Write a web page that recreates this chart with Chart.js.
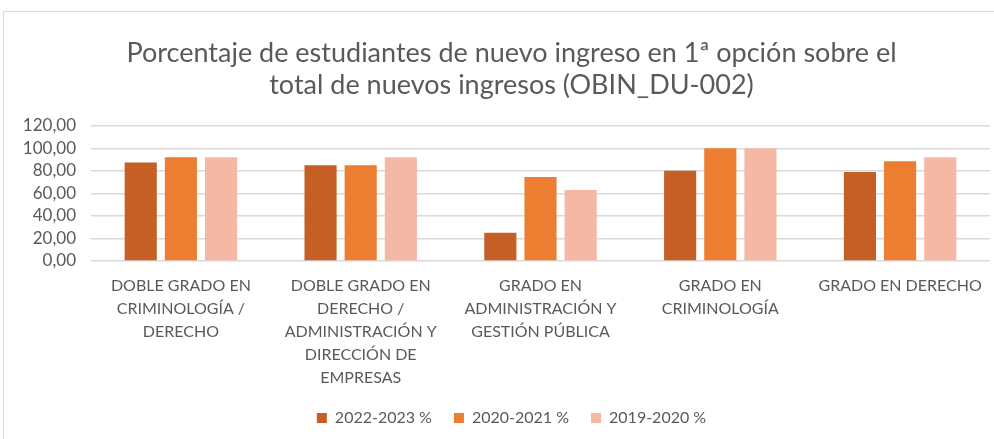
<!DOCTYPE html>
<html>
<head>
<meta charset="utf-8">
<script src="https://cdn.jsdelivr.net/npm/chart.js@4"></script>
<style>
  html, body { margin: 0; padding: 0; background: #fff; overflow: hidden; }
  #frame {
    position: absolute; left: 3px; top: 11px;
    width: 1015px; height: 430px;
    border-left: 1px solid #d9d9d9; border-top: 1px solid #d9d9d9;
  }
</style>
</head>
<body>
<div id="frame"><canvas id="myChart" width="1015" height="430"></canvas></div>
<script>
// Titulaciones
const categorias = [
  ['DOBLE GRADO EN', 'CRIMINOLOGÍA /', 'DERECHO'],
  ['DOBLE GRADO EN', 'DERECHO /', 'ADMINISTRACIÓN Y', 'DIRECCIÓN DE', 'EMPRESAS'],
  ['GRADO EN', 'ADMINISTRACIÓN Y', 'GESTIÓN PÚBLICA'],
  ['GRADO EN', 'CRIMINOLOGÍA'],
  ['GRADO EN DERECHO']
];

// Porcentajes por curso
const curso2022 = [87.5, 85.0, 25.0, 80.0, 79.0];
const curso2020 = [92.0, 85.0, 74.5, 100.0, 88.5];
const curso2019 = [92.0, 92.0, 63.0, 100.0, 92.0];

const yTicks = [0, 20, 40, 60, 80, 100, 120];

const fuente = 'Lato, "Open Sans", sans-serif';
const gris = '#595959';

const chartData = {
  labels: categorias,
  datasets: [
    { label: '2022-2023 %', data: curso2022, backgroundColor: '#C55F25' },
    { label: '2020-2021 %', data: curso2020, backgroundColor: '#ED7D31' },
    { label: '2019-2020 %', data: curso2019, backgroundColor: '#F4B8A5' }
  ]
};

const config = {
  type: 'bar',
  data: chartData,
  options: {
    responsive: false,
    animation: false,
    layout: { padding: { left: 0, right: 0, top: 25, bottom: 6 } },
    datasets: { bar: { categoryPercentage: 0.67, barPercentage: 0.8 } },
    plugins: {
      title: {
        display: true,
        text: ['Porcentaje de estudiantes de nuevo ingreso en 1ª opción sobre el',
               'total de nuevos ingresos (OBIN_DU-002)'],
        color: gris,
        font: { family: fuente, size: 27, weight: 'normal' },
        lineHeight: 1.2,
        padding: { top: 0, bottom: 24 }
      },
      legend: {
        position: 'bottom',
        labels: {
          color: gris,
          font: { family: fuente, size: 16 },
          boxWidth: 10, boxHeight: 10,
          padding: 22
        }
      },
      tooltip: { enabled: false }
    },
    scales: {
      x: {
        // etiquetas de varias líneas: altura fija del eje
        afterFit: s => { s.height = 127; },
        grid: { display: false },
        border: { display: false },
        ticks: {
          color: gris,
          font: { family: fuente, size: 16, lineHeight: 1.44 },
          maxRotation: 0, autoSkip: false, padding: 5
        }
      },
      y: {
        min: 0, max: 120,
        afterFit: s => { s.width = 87; },
        afterBuildTicks: s => { s.ticks = yTicks.map(v => ({ value: v })); },
        grid: { color: '#d9d9d9', lineWidth: 1.5, drawTicks: false },
        border: { display: false },
        ticks: {
          color: gris,
          font: { family: fuente, size: 17 },
          padding: 15,
          autoSkip: false,
          callback: v => v.toFixed(2).replace('.', ',')
        }
      },
      // margen derecho del área de trazado (sin contenido)
      margen: {
        position: 'right',
        afterFit: s => { s.width = 29; },
        grid: { display: false },
        border: { display: false },
        ticks: { display: false }
      }
    }
  }
};

const myChart = new Chart(document.getElementById('myChart'), config);
</script>
</body>
</html>
